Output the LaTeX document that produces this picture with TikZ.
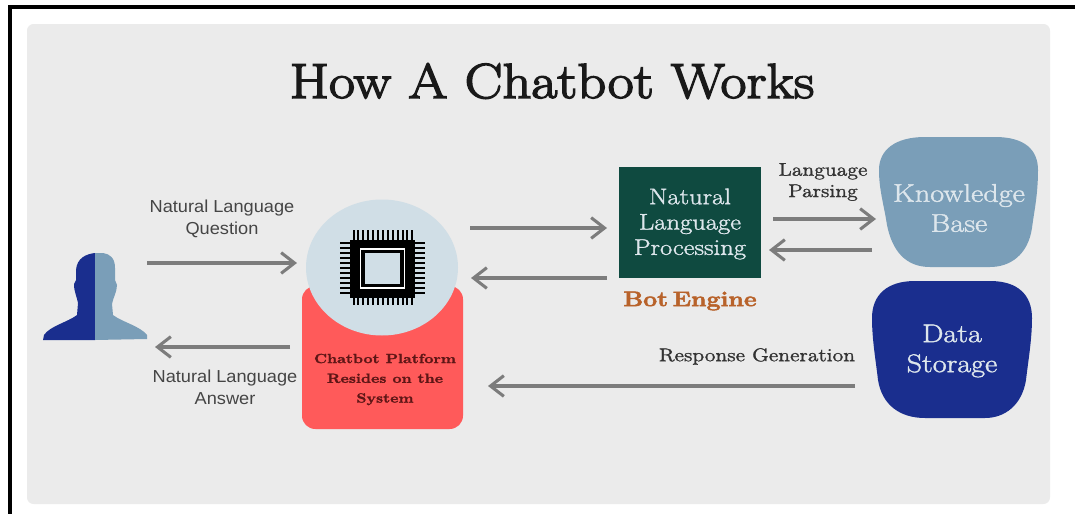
\documentclass[tikz,border=0pt]{standalone}
\usepackage{fontspec}
\usetikzlibrary{arrows.meta,shapes.geometric}
\setmainfont{Latin Modern Roman}
\newfontfamily\wideserif[FakeStretch=1.18,FakeBold=1.5]{Latin Modern Roman}
\newfontfamily\platformserif[FakeStretch=1.18,FakeBold=1.5]{Latin Modern Roman}
\newfontfamily\titleserif[FakeStretch=1.15,FakeBold=3]{Latin Modern Roman}
\newfontfamily\heavyserif[FakeStretch=1.18,FakeBold=2.5]{Latin Modern Roman}
\newfontfamily\labelsans[FakeStretch=1.05]{Liberation Sans}
\definecolor{panel}{HTML}{EBEBEB}
\definecolor{arrowgray}{HTML}{7C7C7C}
\definecolor{navy}{HTML}{1A2E8E}
\definecolor{steel}{HTML}{7A9EB8}
\definecolor{chipbg}{HTML}{D0DEE6}
\definecolor{redbox}{HTML}{FF5A5A}
\definecolor{nlpgreen}{HTML}{0F4A40}
\definecolor{engine}{HTML}{B8622A}
\definecolor{labeldark}{HTML}{454545}
\definecolor{platformtext}{HTML}{5E1616}
\definecolor{boxtext}{HTML}{DDE6EC}
\tikzset{
  x=0.75pt,y=-0.75pt,
  flow/.style={draw=arrowgray,line width=2.5pt,-{Straight Barb[length=10pt,width=15.5pt,line width=2.3pt]}},
  sanslabel/.style={font=\labelsans\fontsize{13}{16.5}\selectfont,text=labeldark,align=center,inner sep=0pt},
  seriflabel/.style={font=\wideserif\fontsize{13.8}{16}\selectfont,text=black!80,align=center,inner sep=0pt},
  pin/.style={draw=black,line width=1.5pt},
}
\begin{document}
\begin{tikzpicture}
\useasboundingbox (0,0) rectangle (1075,514);
\fill[white] (0,0) rectangle (1075,514);
% frame
\fill[black] (8,5) rectangle (1075,9);
\fill[black] (8,5) rectangle (12,514);
% panel
\fill[panel,rounded corners=5pt] (27,24) rectangle (1050,504);
% title
\node[inner sep=0pt,font=\titleserif\fontsize{36.9}{40}\selectfont,text=black!90] (title) at (552,81) {How A Chatbot Works};
% person
\fill[navy] (95,253) .. controls (86,254) and (77,258) .. (76,270)
  -- (76,280) -- (74,284) .. controls (74,292) and (77,297) .. (78,303)
  -- (77,315) .. controls (68,322) and (50,326) .. (44,335)
  -- (43,340) -- (95,340) -- cycle;
\fill[steel] (95,253) -- (103,253) .. controls (110,254) and (115,258) .. (115,268)
  -- (115,280) -- (117,285) .. controls (117,292) and (113,298) .. (112,304)
  -- (113,315) .. controls (122,322) and (140,326) .. (147,335)
  -- (147,339) -- (95,340) -- cycle;
% chatbot platform
\fill[redbox,rounded corners=10pt] (302,286) rectangle (463,429);
\node[ellipse,fill=chipbg,minimum width=114pt,minimum height=102pt,inner sep=0pt] (cpu) at (382,267.5) {};
% chip
\foreach \k in {0,...,12}{
  \draw[pin] (353.5+\k*4.9,230) -- (353.5+\k*4.9,305);
}
\foreach \k in {0,...,10}{
  \draw[pin] (340,243+\k*5) -- (425,243+\k*5);
}
\fill[black] (350,240) rectangle (415,298);
\draw[white,line width=1pt] (360.5,249) rectangle (404.5,288);
\fill[chipbg] (365,253) rectangle (400,283.5);
% platform text
\node[font=\platformserif\fontsize{10}{14.8}\selectfont\bfseries,text=platformtext,align=center,inner sep=0pt] (platform) at (385,379.5) {Chatbot Platform\\Resides on the\\System};
% nlp
\node[fill=nlpgreen,minimum width=106.5pt,minimum height=83.25pt,inner sep=0pt] (nlp) at (690,222.5) {};
\node[font=\wideserif\fontsize{16.9}{19}\selectfont,text=boxtext,align=center,inner sep=0pt] (nlptext) at (690,224) {Natural\\Language\\Processing};
\node[font=\heavyserif\fontsize{15.8}{20}\selectfont\bfseries,text=engine,inner sep=0pt] (engine) at (690,301) {\spaceskip=0.22em\relax Bot Engine};
% knowledge base
\fill[steel] (925,137) -- (995,137) .. controls (1025,137) and (1038,150) .. (1038,170)
  .. controls (1038,195) and (1034,212) .. (1032,228)
  .. controls (1028,255) and (1010,267) .. (990,267)
  -- (930,267) .. controls (905,267) and (892,250) .. (887,225)
  .. controls (884,205) and (879,190) .. (879,170)
  .. controls (879,150) and (895,137) .. (925,137) -- cycle;
\node[font=\wideserif\fontsize{19.2}{22.5}\selectfont,text=boxtext,align=center,inner sep=0pt] (kb) at (959,208) {Knowledge\\Base};
% data storage
\fill[navy] (915,281) -- (990,281) .. controls (1018,281) and (1032,295) .. (1032,318)
  .. controls (1032,340) and (1028,362) .. (1026,380)
  .. controls (1022,405) and (1005,418) .. (985,418)
  -- (925,418) .. controls (900,418) and (882,405) .. (878,380)
  .. controls (876,362) and (872,340) .. (872,318)
  .. controls (872,295) and (887,281) .. (915,281) -- cycle;
\node[font=\wideserif\fontsize{19.2}{22.5}\selectfont,text=boxtext,align=center,inner sep=0pt] (ds) at (952,351) {Data\\Storage};
% labels
\node[sanslabel] (q) at (222,219) {Natural Language\\Question};
\node[sanslabel] (a) at (225,387) {Natural Language\\Answer};
\node[seriflabel] (lp) at (823,182) {Language\\Parsing};
\node[seriflabel] (rg) at (757,356.5) {Response Generation};
% connector ends
\coordinate (p1) at (147,263); \coordinate (c1) at (297,263);
\coordinate (c2) at (290,347); \coordinate (p2) at (155,347);
\coordinate (c3) at (470,228); \coordinate (n3) at (607,228);
\coordinate (n4) at (607,278); \coordinate (c4) at (471,278);
\coordinate (n5) at (773,219); \coordinate (k5) at (876,219);
\coordinate (k6) at (872,250); \coordinate (n6) at (769,250);
\coordinate (d7) at (855,386); \coordinate (c7) at (488,386);
\draw[flow] (p1) -- (c1);
\draw[flow] (c2) -- (p2);
\draw[flow] (c3) -- (n3);
\draw[flow] (n4) -- (c4);
\draw[flow] (n5) -- (k5);
\draw[flow] (k6) -- (n6);
\draw[flow] (d7) -- (c7);
\end{tikzpicture}
\end{document}
